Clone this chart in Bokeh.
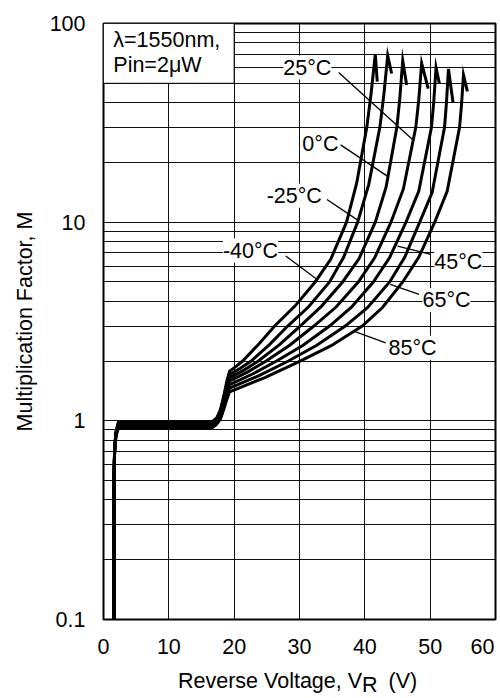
from bokeh.plotting import figure
from bokeh.models import Range1d, FixedTicker, Label, BoxAnnotation, Div
from bokeh.layouts import column
from bokeh.embed import file_html
from bokeh.resources import INLINE

FONT = "Liberation Sans"
FS = "21.5px"

# ---------------- data ----------------
temps = ["-40°C", "-25°C", "0°C", "25°C", "45°C", "65°C", "85°C"]

volts_m40 = [1.6, 1.6, 1.7, 1.9, 2.3, 16.6, 17.3, 17.9, 18.4, 18.9,
             19.3, 20.3, 21.3, 23.75, 26.2, 29.3, 32.4, 34.8, 37.2, 38.75, 40.3, 40.95, 41.6, 41.9]
mult_m40 = [0.1, 0.5, 0.72, 0.88, 0.99, 0.99, 1.03, 1.14, 1.33, 1.6,
            1.78, 1.88, 2.0, 2.43, 3.0, 3.78, 5.0, 6.52, 10, 15.7, 30, 44.2, 70, 51]

volts_m25 = [1.6, 1.6, 1.7, 1.9, 2.3, 16.6, 17.3, 17.9, 18.4, 18.9,
             19.3, 20.95, 22.6, 25.4, 28.2, 31.4, 34.6, 36.75, 38.9, 40.6, 42.3, 42.9, 43.5, 44.1]
mult_m25 = [0.1, 0.5, 0.72, 0.87, 0.98, 0.98, 1.02, 1.12, 1.3, 1.54,
            1.71, 1.84, 2.0, 2.42, 3.0, 3.75, 5.0, 6.65, 10, 15.5, 30, 43.5, 69, 56]

volts_0 = [1.6, 1.6, 1.7, 1.9, 2.3, 16.6, 17.3, 17.9, 18.4, 18.9,
           19.3, 21.5, 23.7, 26.9, 30.1, 33.35, 36.6, 39.1, 41.6, 43.25, 44.9, 45.35, 45.8, 46.4]
mult_0 = [0.1, 0.5, 0.71, 0.86, 0.97, 0.97, 1.01, 1.1, 1.27, 1.49,
          1.65, 1.80, 2.0, 2.41, 3.0, 3.77, 5.0, 6.54, 10, 15.0, 30, 41.9, 65, 49]

volts_25 = [1.6, 1.6, 1.7, 1.9, 2.3, 16.6, 17.3, 17.9, 18.4, 18.9,
            19.3, 22.1, 24.9, 28.55, 32.2, 35.6, 39.0, 41.5, 44.0, 45.9, 47.8, 48.25, 48.7, 49.7]
mult_25 = [0.1, 0.5, 0.71, 0.86, 0.96, 0.96, 1.0, 1.08, 1.24, 1.44,
           1.59, 1.765, 2.0, 2.41, 3.0, 3.74, 5.0, 6.61, 10, 14.7, 30, 41.1, 63, 47]

volts_45 = [1.6, 1.6, 1.7, 1.9, 2.3, 16.6, 17.3, 17.9, 18.4, 18.9,
            19.3, 22.9, 26.5, 30.55, 34.6, 37.95, 41.3, 43.8, 46.3, 48.25, 50.2, 50.55, 50.9, 51.4]
mult_45 = [0.1, 0.5, 0.7, 0.85, 0.94, 0.94, 0.98, 1.06, 1.2, 1.39,
           1.52, 1.726, 2.0, 2.40, 3.0, 3.73, 5.0, 6.64, 10, 14.3, 30, 40.4, 60, 50]

volts_65 = [1.6, 1.6, 1.7, 1.9, 2.3, 16.6, 17.3, 17.9, 18.4, 18.9,
            19.3, 23.8, 28.3, 32.65, 37.0, 40.4, 43.8, 46.1, 48.4, 50.3, 52.2, 52.5, 52.8, 53.5]
mult_65 = [0.1, 0.5, 0.7, 0.85, 0.93, 0.93, 0.97, 1.04, 1.17, 1.34,
           1.46, 1.688, 2.0, 2.40, 3.0, 3.71, 5.0, 6.65, 10, 14.1, 30, 40.2, 59, 40]

volts_85 = [1.6, 1.6, 1.7, 1.9, 2.3, 16.6, 17.3, 17.9, 18.4, 18.9,
            19.3, 24.7, 30.1, 34.85, 39.6, 42.7, 45.8, 48.25, 50.7, 52.6, 54.5, 54.8, 55.1, 55.7]
mult_85 = [0.1, 0.5, 0.7, 0.84, 0.92, 0.92, 0.96, 1.02, 1.14, 1.29,
           1.40, 1.652, 2.0, 2.39, 3.0, 3.72, 5.0, 6.65, 10, 14.3, 30, 39.0, 55, 45.5]

x_ticks = [0, 10, 20, 30, 40, 50, 60]
x_tick_labels = ["0", "10", "20", "30", "40", "50", "60"]
y_ticks = [0.1, 1, 10, 100]
y_minor = [0.2, 0.3, 0.4, 0.5, 0.6, 0.7, 0.8, 0.9,
           2, 3, 4, 5, 6, 7, 8, 9,
           20, 30, 40, 50, 60, 70, 80, 90]
y_tick_labels = ["0.1", "1", "10", "100"]

# label anchors (data coords) and leader lines
label_x = [22.5, 29.2, 33.2, 31.2, 54.3, 52.5, 47.3]
label_y = [7.2, 13.6, 24.7, 60, 6.3, 4.06, 2.33]
lead_x0 = [27.9, 34.2, 36.3, 36.0, 50.1, 48.3, 43.2]
lead_y0 = [6.75, 13.0, 24.5, 56.7, 6.89, 4.33, 2.47]
lead_x1 = [32.7, 38.8, 43.5, 47.3, 45.0, 43.9, 38.3]
lead_y1 = [5.15, 10.3, 17.0, 26.1, 7.57, 4.86, 2.83]

curves = [(volts_m40, mult_m40), (volts_m25, mult_m25), (volts_0, mult_0),
          (volts_25, mult_25), (volts_45, mult_45), (volts_65, mult_65),
          (volts_85, mult_85)]

# ---------------- figure ----------------
p = figure(width=500, height=668, x_range=Range1d(0, 60), y_range=Range1d(0.1, 100),
           y_axis_type="log", output_backend="svg", toolbar_location=None,
           min_border_left=103, min_border_right=5, min_border_top=23, min_border_bottom=49,
           background_fill_color="white", border_fill_color="white", margin=0)

p.outline_line_color = "black"
p.outline_line_width = 2

p.xaxis.ticker = FixedTicker(ticks=x_ticks)
p.yaxis.ticker = FixedTicker(ticks=y_ticks, minor_ticks=y_minor)
p.yaxis.major_label_overrides = {t: s for t, s in zip(y_ticks, y_tick_labels)}
xl = {t: s for t, s in zip(x_ticks, x_tick_labels)}
xl[60] = xl[60] + "\u00a0"   # last label sits flush with the right frame edge
p.xaxis.major_label_overrides = xl

for ax in (p.xaxis, p.yaxis):
    ax.axis_line_color = None
    ax.major_tick_line_color = None
    ax.minor_tick_line_color = None
    ax.major_label_text_font = FONT
    ax.major_label_text_font_size = FS
    ax.major_label_text_color = "black"
    ax.axis_label_text_font = FONT
    ax.axis_label_text_font_size = FS
    ax.axis_label_text_font_style = "normal"
    ax.axis_label_text_color = "black"

p.xaxis.major_label_standoff = 9
p.yaxis.major_label_standoff = 12
p.yaxis.axis_label = "Multiplication Factor, M"
p.yaxis.axis_label_standoff = 10

p.xgrid.grid_line_color = "#111111"
p.xgrid.grid_line_width = 1
p.ygrid.grid_line_color = "#111111"
p.ygrid.grid_line_width = 1
p.ygrid.minor_grid_line_color = "#111111"
p.ygrid.minor_grid_line_width = 1

# info box in upper-left
p.add_layout(BoxAnnotation(left=0, right=20, bottom=50, top=100, fill_color="white",
                           fill_alpha=1.0, line_color="black", line_width=1, line_alpha=1.0))
p.add_layout(Label(x=1.5, y=82.6, text="λ=1550nm,", text_align="left", text_baseline="middle",
                   text_font=FONT, text_font_size=FS, text_color="black"))
p.add_layout(Label(x=1.5, y=61.5, text="Pin=2μW", text_align="left", text_baseline="middle",
                   text_font=FONT, text_font_size=FS, text_color="black"))

for v, m in curves:
    p.line(v, m, line_color="black", line_width=3, line_join="miter")

p.segment(x0=lead_x0, y0=lead_y0, x1=lead_x1, y1=lead_y1, line_color="black", line_width=1.3)

for t, lx, ly in zip(temps, label_x, label_y):
    p.add_layout(Label(x=lx, y=ly, text=t, text_align="center", text_baseline="middle",
                       text_font=FONT, text_font_size=FS, text_color="black",
                       background_fill_color="white", background_fill_alpha=1.0))

# x-axis title (with subscript R) as real text below the plot
title_html = (
    '<div style="font-family:\'Liberation Sans\',Arial,sans-serif;font-size:21.5px;'
    'line-height:21.5px;padding-left:178px;padding-top:3px;white-space:nowrap;color:black;">'
    'Reverse Voltage, V<span style="position:relative;top:4px;">R</span>'
    '<span style="margin-left:11px;">(V)</span></div>'
)
xtitle = Div(text=title_html, width=500, height=30, margin=0)

layout = column(p, xtitle, spacing=0, margin=0)

open("out.html", "w").write(file_html(layout, INLINE))
